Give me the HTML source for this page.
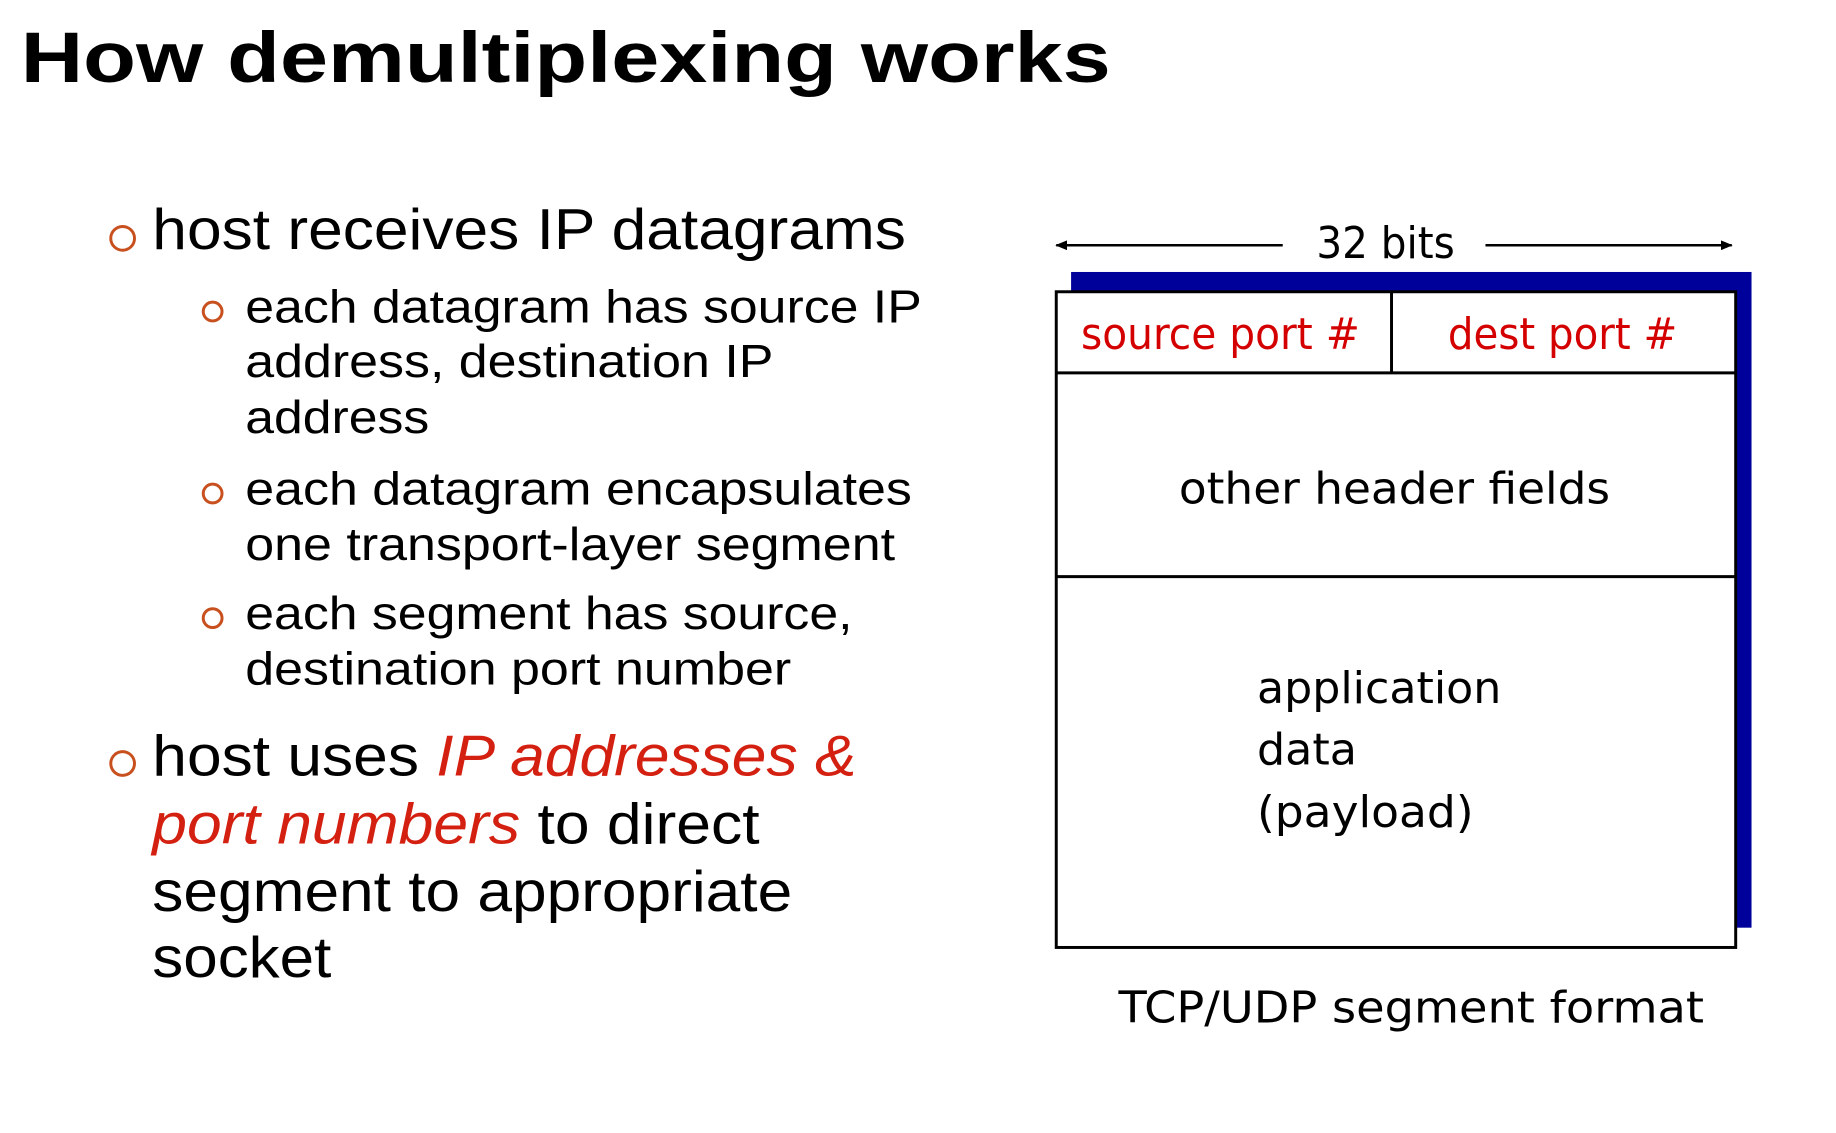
<!DOCTYPE html>
<html><head><meta charset="utf-8"><style>
html,body{margin:0;padding:0;background:#fff;}
svg{display:block;}
</style></head><body>
<svg width="1836" height="1133" viewBox="0 0 1836 1133" xmlns="http://www.w3.org/2000/svg">
<defs>
<marker id="ah" markerWidth="12" markerHeight="10" refX="11" refY="5" orient="auto" markerUnits="userSpaceOnUse">
<path d="M0,0 L12,5 L0,10 z" fill="#000"/></marker>
</defs>
<rect width="1836" height="1133" fill="#fff"/>
<g transform="scale(0.989)">
<g font-family="Liberation Sans, Arial, sans-serif" fill="#000">
<text x="21" y="83" font-size="72" font-weight="bold" textLength="1102" lengthAdjust="spacingAndGlyphs">How demultiplexing works</text>

<circle cx="124" cy="241" r="12" fill="none" stroke="#c8501e" stroke-width="3"/>
<text x="154" y="252" font-size="58" textLength="762" lengthAdjust="spacingAndGlyphs">host receives IP datagrams</text>

<circle cx="215" cy="315" r="9.5" fill="none" stroke="#c8501e" stroke-width="3"/>
<text x="248" y="326" font-size="47" textLength="684" lengthAdjust="spacingAndGlyphs">each datagram has source IP</text>
<text x="248" y="381" font-size="47" textLength="534" lengthAdjust="spacingAndGlyphs">address, destination IP</text>
<text x="248" y="438" font-size="47" textLength="186" lengthAdjust="spacingAndGlyphs">address</text>

<circle cx="215" cy="499" r="9.5" fill="none" stroke="#c8501e" stroke-width="3"/>
<text x="248" y="510" font-size="47" textLength="674" lengthAdjust="spacingAndGlyphs">each datagram encapsulates</text>
<text x="248" y="566" font-size="47" textLength="657" lengthAdjust="spacingAndGlyphs">one transport-layer segment</text>

<circle cx="215" cy="625" r="9.5" fill="none" stroke="#c8501e" stroke-width="3"/>
<text x="248" y="636" font-size="47" textLength="614" lengthAdjust="spacingAndGlyphs">each segment has source,</text>
<text x="248" y="692" font-size="47" textLength="552" lengthAdjust="spacingAndGlyphs">destination port number</text>

<circle cx="124" cy="772" r="12" fill="none" stroke="#c8501e" stroke-width="3"/>
<text x="154" y="784" font-size="58" textLength="712" lengthAdjust="spacingAndGlyphs">host uses <tspan fill="#d42010" font-style="italic">IP addresses &amp;</tspan></text>
<text x="154" y="853" font-size="58" textLength="614" lengthAdjust="spacingAndGlyphs"><tspan fill="#d42010" font-style="italic">port numbers</tspan> to direct</text>
<text x="154" y="921" font-size="58" textLength="647" lengthAdjust="spacingAndGlyphs">segment to appropriate</text>
<text x="154" y="988" font-size="58" textLength="181" lengthAdjust="spacingAndGlyphs">socket</text>
</g>

<g font-family="DejaVu Sans, Verdana, sans-serif" fill="#000">
<line x1="1297" y1="248" x2="1068" y2="248" stroke="#000" stroke-width="2.5" marker-end="url(#ah)"/>
<line x1="1502" y1="248" x2="1751" y2="248" stroke="#000" stroke-width="2.5" marker-end="url(#ah)"/>
<text x="1331" y="261" font-size="44" textLength="140" lengthAdjust="spacingAndGlyphs">32 bits</text>

<rect x="1083" y="275" width="688" height="663" fill="#00009a"/>
<rect x="1068" y="295" width="687" height="663" fill="#fff" stroke="#000" stroke-width="3"/>
<line x1="1068" y1="377" x2="1755" y2="377" stroke="#000" stroke-width="3"/>
<line x1="1407" y1="295" x2="1407" y2="377" stroke="#000" stroke-width="3"/>
<line x1="1068" y1="583" x2="1755" y2="583" stroke="#000" stroke-width="3"/>

<text x="1093" y="353" font-size="44" fill="#d40000" textLength="282" lengthAdjust="spacingAndGlyphs">source port #</text>
<text x="1464" y="353" font-size="44" fill="#d40000" textLength="232" lengthAdjust="spacingAndGlyphs">dest port #</text>
<text x="1192" y="509" font-size="44" textLength="436" lengthAdjust="spacingAndGlyphs">other header fields</text>
<text x="1271" y="711" font-size="44" textLength="247" lengthAdjust="spacingAndGlyphs">application</text>
<text x="1271" y="773" font-size="44" textLength="101" lengthAdjust="spacingAndGlyphs">data</text>
<text x="1271" y="836" font-size="44" textLength="219" lengthAdjust="spacingAndGlyphs">(payload)</text>
<text x="1131" y="1034" font-size="44" textLength="592" lengthAdjust="spacingAndGlyphs">TCP/UDP segment format</text>
</g>
</g>
</svg>
</body></html>
